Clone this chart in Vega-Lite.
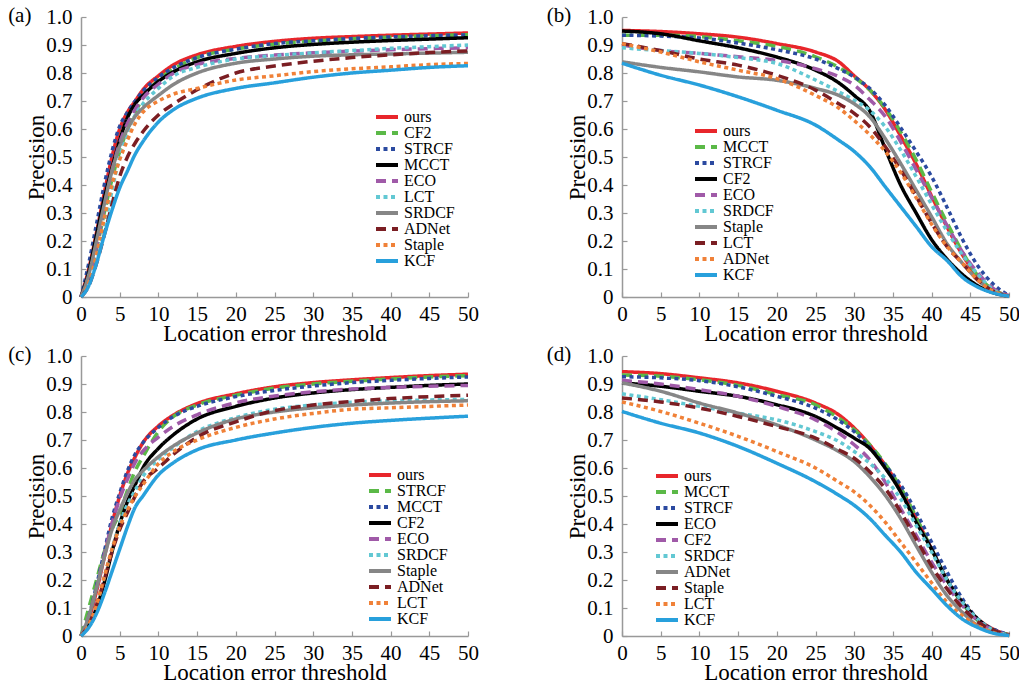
{
  "$schema": "https://vega.github.io/schema/vega-lite/v6.json",
  "padding": {"left": 8, "top": 5, "right": 0, "bottom": 0},
  "background": "white",
  "columns": 2,
  "spacing": {"row": -1, "column": 67},
  "resolve": {"scale": {"color": "independent", "strokeDash": "independent", "x": "independent", "y": "independent"}, "legend": {"color": "independent", "strokeDash": "independent"}},
  "config": {
    "view": {"stroke": null},
    "font": "Liberation Serif",
    "axis": {"grid": false, "labelFlush": false, "labelOverlap": false, "labelFont": "Liberation Serif", "labelFontSize": 21, "labelColor": "#000", "titleFont": "Liberation Serif", "titleFontSize": 23, "titleFontWeight": "normal", "titleColor": "#000", "domainColor": "#999", "domainWidth": 1.5, "tickColor": "#999", "tickSize": -5, "tickWidth": 1.2},
    "axisX": {"labelPadding": 11, "titlePadding": -2},
    "axisY": {"labelPadding": 14, "titlePadding": -3},
    "legend": {"orient": "none", "title": null, "labelFont": "Liberation Serif", "labelFontSize": 16, "labelColor": "#000", "symbolType": "M-2.2,0H2.2", "symbolSize": 100, "symbolStrokeWidth": 4, "rowPadding": -2, "labelOffset": 9, "padding": 0},
    "title": {"font": "Liberation Serif", "fontSize": 21, "fontWeight": "normal", "color": "#000"}
  },
  "datasets": {
    "a": [
      {"x":0,"ours":0,"CF2":0,"STRCF":0,"MCCT":0,"ECO":0,"LCT":0,"SRDCF":0,"ADNet":0,"Staple":0,"KCF":0},
      {"x":1,"ours":0.1,"CF2":0.07,"STRCF":0.12,"MCCT":0.09,"ECO":0.07,"LCT":0.05,"SRDCF":0.08,"ADNet":0.04,"Staple":0.05,"KCF":0.04},
      {"x":2,"ours":0.23,"CF2":0.17,"STRCF":0.26,"MCCT":0.22,"ECO":0.18,"LCT":0.13,"SRDCF":0.2,"ADNet":0.12,"Staple":0.15,"KCF":0.12},
      {"x":3,"ours":0.37,"CF2":0.3,"STRCF":0.4,"MCCT":0.35,"ECO":0.32,"LCT":0.24,"SRDCF":0.33,"ADNet":0.22,"Staple":0.28,"KCF":0.22},
      {"x":4,"ours":0.5,"CF2":0.42,"STRCF":0.52,"MCCT":0.46,"ECO":0.45,"LCT":0.38,"SRDCF":0.45,"ADNet":0.33,"Staple":0.4,"KCF":0.31},
      {"x":5,"ours":0.6,"CF2":0.52,"STRCF":0.61,"MCCT":0.56,"ECO":0.55,"LCT":0.5,"SRDCF":0.54,"ADNet":0.43,"Staple":0.49,"KCF":0.39},
      {"x":6,"ours":0.66,"CF2":0.6,"STRCF":0.66,"MCCT":0.64,"ECO":0.62,"LCT":0.59,"SRDCF":0.6,"ADNet":0.5,"Staple":0.56,"KCF":0.45},
      {"x":7,"ours":0.7,"CF2":0.66,"STRCF":0.7,"MCCT":0.69,"ECO":0.67,"LCT":0.65,"SRDCF":0.645,"ADNet":0.55,"Staple":0.62,"KCF":0.51},
      {"x":8,"ours":0.74,"CF2":0.71,"STRCF":0.735,"MCCT":0.72,"ECO":0.71,"LCT":0.69,"SRDCF":0.675,"ADNet":0.59,"Staple":0.66,"KCF":0.555},
      {"x":10,"ours":0.79,"CF2":0.775,"STRCF":0.785,"MCCT":0.77,"ECO":0.76,"LCT":0.745,"SRDCF":0.72,"ADNet":0.65,"Staple":0.7,"KCF":0.625},
      {"x":12,"ours":0.83,"CF2":0.815,"STRCF":0.82,"MCCT":0.805,"ECO":0.8,"LCT":0.79,"SRDCF":0.76,"ADNet":0.69,"Staple":0.725,"KCF":0.67},
      {"x":15,"ours":0.865,"CF2":0.855,"STRCF":0.855,"MCCT":0.84,"ECO":0.83,"LCT":0.82,"SRDCF":0.8,"ADNet":0.74,"Staple":0.745,"KCF":0.71},
      {"x":20,"ours":0.895,"CF2":0.885,"STRCF":0.885,"MCCT":0.87,"ECO":0.852,"LCT":0.85,"SRDCF":0.835,"ADNet":0.8,"Staple":0.775,"KCF":0.745},
      {"x":25,"ours":0.913,"CF2":0.903,"STRCF":0.905,"MCCT":0.89,"ECO":0.864,"LCT":0.862,"SRDCF":0.85,"ADNet":0.825,"Staple":0.79,"KCF":0.765},
      {"x":30,"ours":0.924,"CF2":0.914,"STRCF":0.915,"MCCT":0.902,"ECO":0.872,"LCT":0.872,"SRDCF":0.86,"ADNet":0.842,"Staple":0.805,"KCF":0.785},
      {"x":35,"ours":0.93,"CF2":0.922,"STRCF":0.923,"MCCT":0.91,"ECO":0.878,"LCT":0.88,"SRDCF":0.865,"ADNet":0.855,"Staple":0.815,"KCF":0.8},
      {"x":40,"ours":0.935,"CF2":0.928,"STRCF":0.929,"MCCT":0.916,"ECO":0.883,"LCT":0.888,"SRDCF":0.868,"ADNet":0.865,"Staple":0.822,"KCF":0.81},
      {"x":45,"ours":0.939,"CF2":0.933,"STRCF":0.933,"MCCT":0.921,"ECO":0.887,"LCT":0.894,"SRDCF":0.871,"ADNet":0.873,"Staple":0.83,"KCF":0.82},
      {"x":50,"ours":0.943,"CF2":0.937,"STRCF":0.936,"MCCT":0.926,"ECO":0.89,"LCT":0.9,"SRDCF":0.874,"ADNet":0.879,"Staple":0.834,"KCF":0.826}
    ],
    "b": [
      {"x":0,"ours":0.952,"MCCT":0.935,"STRCF":0.935,"CF2":0.95,"ECO":0.9,"SRDCF":0.89,"Staple":0.84,"LCT":0.905,"ADNet":0.905,"KCF":0.835},
      {"x":5,"ours":0.948,"MCCT":0.935,"STRCF":0.932,"CF2":0.94,"ECO":0.88,"SRDCF":0.88,"Staple":0.82,"LCT":0.88,"ADNet":0.875,"KCF":0.792},
      {"x":10,"ours":0.94,"MCCT":0.93,"STRCF":0.925,"CF2":0.915,"ECO":0.87,"SRDCF":0.87,"Staple":0.804,"LCT":0.85,"ADNet":0.84,"KCF":0.757},
      {"x":15,"ours":0.928,"MCCT":0.915,"STRCF":0.907,"CF2":0.89,"ECO":0.858,"SRDCF":0.855,"Staple":0.786,"LCT":0.828,"ADNet":0.81,"KCF":0.715},
      {"x":20,"ours":0.905,"MCCT":0.895,"STRCF":0.883,"CF2":0.857,"ECO":0.845,"SRDCF":0.834,"Staple":0.774,"LCT":0.792,"ADNet":0.78,"KCF":0.667},
      {"x":25,"ours":0.875,"MCCT":0.858,"STRCF":0.85,"CF2":0.81,"ECO":0.815,"SRDCF":0.775,"Staple":0.745,"LCT":0.739,"ADNet":0.72,"KCF":0.614},
      {"x":28,"ours":0.84,"MCCT":0.82,"STRCF":0.815,"CF2":0.765,"ECO":0.787,"SRDCF":0.733,"Staple":0.72,"LCT":0.69,"ADNet":0.675,"KCF":0.56},
      {"x":30,"ours":0.79,"MCCT":0.785,"STRCF":0.786,"CF2":0.72,"ECO":0.757,"SRDCF":0.703,"Staple":0.69,"LCT":0.656,"ADNet":0.63,"KCF":0.52},
      {"x":32,"ours":0.74,"MCCT":0.74,"STRCF":0.745,"CF2":0.665,"ECO":0.705,"SRDCF":0.667,"Staple":0.644,"LCT":0.608,"ADNet":0.58,"KCF":0.466},
      {"x":34,"ours":0.67,"MCCT":0.675,"STRCF":0.685,"CF2":0.53,"ECO":0.645,"SRDCF":0.608,"Staple":0.566,"LCT":0.537,"ADNet":0.52,"KCF":0.394},
      {"x":36,"ours":0.575,"MCCT":0.59,"STRCF":0.605,"CF2":0.4,"ECO":0.555,"SRDCF":0.525,"Staple":0.477,"LCT":0.454,"ADNet":0.445,"KCF":0.323},
      {"x":38,"ours":0.475,"MCCT":0.49,"STRCF":0.52,"CF2":0.3,"ECO":0.455,"SRDCF":0.43,"Staple":0.382,"LCT":0.36,"ADNet":0.355,"KCF":0.252},
      {"x":40,"ours":0.36,"MCCT":0.375,"STRCF":0.43,"CF2":0.205,"ECO":0.355,"SRDCF":0.33,"Staple":0.287,"LCT":0.264,"ADNet":0.26,"KCF":0.18},
      {"x":42,"ours":0.25,"MCCT":0.265,"STRCF":0.32,"CF2":0.135,"ECO":0.255,"SRDCF":0.235,"Staple":0.19,"LCT":0.18,"ADNet":0.18,"KCF":0.13},
      {"x":44,"ours":0.15,"MCCT":0.16,"STRCF":0.205,"CF2":0.08,"ECO":0.16,"SRDCF":0.15,"Staple":0.12,"LCT":0.12,"ADNet":0.12,"KCF":0.07},
      {"x":46,"ours":0.07,"MCCT":0.075,"STRCF":0.11,"CF2":0.04,"ECO":0.085,"SRDCF":0.08,"Staple":0.06,"LCT":0.06,"ADNet":0.06,"KCF":0.035},
      {"x":48,"ours":0.025,"MCCT":0.025,"STRCF":0.045,"CF2":0.015,"ECO":0.03,"SRDCF":0.025,"Staple":0.02,"LCT":0.02,"ADNet":0.02,"KCF":0.014},
      {"x":50,"ours":0.005,"MCCT":0.005,"STRCF":0.005,"CF2":0.003,"ECO":0.005,"SRDCF":0.003,"Staple":0.003,"LCT":0.003,"ADNet":0.003,"KCF":0.003}
    ],
    "c": [
      {"x":0,"ours":0,"STRCF":0,"MCCT":0,"CF2":0,"ECO":0,"SRDCF":0,"Staple":0,"ADNet":0,"LCT":0,"KCF":0},
      {"x":1,"ours":0.06,"STRCF":0.1,"MCCT":0.07,"CF2":0.04,"ECO":0.07,"SRDCF":0.04,"Staple":0.07,"ADNet":0.04,"LCT":0.04,"KCF":0.03},
      {"x":2,"ours":0.16,"STRCF":0.2,"MCCT":0.18,"CF2":0.1,"ECO":0.17,"SRDCF":0.11,"Staple":0.17,"ADNet":0.11,"LCT":0.11,"KCF":0.08},
      {"x":3,"ours":0.28,"STRCF":0.3,"MCCT":0.3,"CF2":0.19,"ECO":0.29,"SRDCF":0.21,"Staple":0.28,"ADNet":0.2,"LCT":0.21,"KCF":0.15},
      {"x":4,"ours":0.4,"STRCF":0.38,"MCCT":0.42,"CF2":0.3,"ECO":0.4,"SRDCF":0.31,"Staple":0.38,"ADNet":0.3,"LCT":0.31,"KCF":0.23},
      {"x":5,"ours":0.5,"STRCF":0.44,"MCCT":0.51,"CF2":0.4,"ECO":0.49,"SRDCF":0.4,"Staple":0.45,"ADNet":0.38,"LCT":0.39,"KCF":0.31},
      {"x":6,"ours":0.58,"STRCF":0.52,"MCCT":0.59,"CF2":0.48,"ECO":0.56,"SRDCF":0.47,"Staple":0.51,"ADNet":0.44,"LCT":0.45,"KCF":0.39},
      {"x":7,"ours":0.64,"STRCF":0.59,"MCCT":0.65,"CF2":0.54,"ECO":0.62,"SRDCF":0.52,"Staple":0.56,"ADNet":0.5,"LCT":0.5,"KCF":0.46},
      {"x":8,"ours":0.69,"STRCF":0.64,"MCCT":0.69,"CF2":0.6,"ECO":0.66,"SRDCF":0.57,"Staple":0.59,"ADNet":0.55,"LCT":0.54,"KCF":0.5},
      {"x":10,"ours":0.75,"STRCF":0.73,"MCCT":0.745,"CF2":0.67,"ECO":0.71,"SRDCF":0.63,"Staple":0.64,"ADNet":0.6,"LCT":0.615,"KCF":0.575},
      {"x":12,"ours":0.79,"STRCF":0.785,"MCCT":0.785,"CF2":0.72,"ECO":0.75,"SRDCF":0.675,"Staple":0.68,"ADNet":0.65,"LCT":0.66,"KCF":0.62},
      {"x":15,"ours":0.83,"STRCF":0.825,"MCCT":0.82,"CF2":0.775,"ECO":0.79,"SRDCF":0.73,"Staple":0.725,"ADNet":0.71,"LCT":0.7,"KCF":0.665},
      {"x":20,"ours":0.865,"STRCF":0.86,"MCCT":0.855,"CF2":0.82,"ECO":0.833,"SRDCF":0.78,"Staple":0.775,"ADNet":0.765,"LCT":0.745,"KCF":0.7},
      {"x":25,"ours":0.89,"STRCF":0.885,"MCCT":0.877,"CF2":0.85,"ECO":0.857,"SRDCF":0.81,"Staple":0.8,"ADNet":0.805,"LCT":0.775,"KCF":0.725},
      {"x":30,"ours":0.905,"STRCF":0.9,"MCCT":0.893,"CF2":0.868,"ECO":0.872,"SRDCF":0.825,"Staple":0.815,"ADNet":0.825,"LCT":0.795,"KCF":0.745},
      {"x":35,"ours":0.915,"STRCF":0.91,"MCCT":0.905,"CF2":0.88,"ECO":0.882,"SRDCF":0.835,"Staple":0.825,"ADNet":0.838,"LCT":0.81,"KCF":0.76},
      {"x":40,"ours":0.923,"STRCF":0.918,"MCCT":0.913,"CF2":0.888,"ECO":0.888,"SRDCF":0.84,"Staple":0.832,"ADNet":0.848,"LCT":0.815,"KCF":0.77},
      {"x":45,"ours":0.93,"STRCF":0.925,"MCCT":0.92,"CF2":0.895,"ECO":0.892,"SRDCF":0.843,"Staple":0.837,"ADNet":0.855,"LCT":0.82,"KCF":0.778},
      {"x":50,"ours":0.935,"STRCF":0.93,"MCCT":0.925,"CF2":0.9,"ECO":0.895,"SRDCF":0.845,"Staple":0.84,"ADNet":0.86,"LCT":0.825,"KCF":0.785}
    ],
    "d": [
      {"x":0,"ours":0.944,"MCCT":0.932,"STRCF":0.926,"ECO":0.904,"CF2":0.913,"SRDCF":0.865,"ADNet":0.904,"Staple":0.85,"LCT":0.836,"KCF":0.802},
      {"x":5,"ours":0.937,"MCCT":0.928,"STRCF":0.922,"ECO":0.892,"CF2":0.9,"SRDCF":0.844,"ADNet":0.874,"Staple":0.836,"LCT":0.802,"KCF":0.76},
      {"x":10,"ours":0.922,"MCCT":0.915,"STRCF":0.912,"ECO":0.874,"CF2":0.88,"SRDCF":0.82,"ADNet":0.832,"Staple":0.814,"LCT":0.76,"KCF":0.725},
      {"x":15,"ours":0.904,"MCCT":0.895,"STRCF":0.89,"ECO":0.856,"CF2":0.856,"SRDCF":0.796,"ADNet":0.796,"Staple":0.784,"LCT":0.713,"KCF":0.677},
      {"x":20,"ours":0.874,"MCCT":0.862,"STRCF":0.856,"ECO":0.826,"CF2":0.82,"SRDCF":0.772,"ADNet":0.754,"Staple":0.748,"LCT":0.659,"KCF":0.617},
      {"x":25,"ours":0.832,"MCCT":0.826,"STRCF":0.814,"ECO":0.784,"CF2":0.772,"SRDCF":0.73,"ADNet":0.7,"Staple":0.707,"LCT":0.6,"KCF":0.551},
      {"x":28,"ours":0.79,"MCCT":0.778,"STRCF":0.77,"ECO":0.74,"CF2":0.725,"SRDCF":0.695,"ADNet":0.659,"Staple":0.665,"LCT":0.55,"KCF":0.503},
      {"x":30,"ours":0.743,"MCCT":0.737,"STRCF":0.73,"ECO":0.707,"CF2":0.683,"SRDCF":0.659,"ADNet":0.623,"Staple":0.635,"LCT":0.515,"KCF":0.467},
      {"x":32,"ours":0.683,"MCCT":0.683,"STRCF":0.675,"ECO":0.67,"CF2":0.63,"SRDCF":0.617,"ADNet":0.569,"Staple":0.587,"LCT":0.467,"KCF":0.42},
      {"x":34,"ours":0.61,"MCCT":0.615,"STRCF":0.61,"ECO":0.6,"CF2":0.55,"SRDCF":0.563,"ADNet":0.503,"Staple":0.527,"LCT":0.407,"KCF":0.36},
      {"x":36,"ours":0.527,"MCCT":0.53,"STRCF":0.54,"ECO":0.515,"CF2":0.455,"SRDCF":0.49,"ADNet":0.42,"Staple":0.443,"LCT":0.335,"KCF":0.3},
      {"x":38,"ours":0.42,"MCCT":0.425,"STRCF":0.443,"ECO":0.407,"CF2":0.36,"SRDCF":0.395,"ADNet":0.323,"Staple":0.347,"LCT":0.263,"KCF":0.228},
      {"x":40,"ours":0.31,"MCCT":0.31,"STRCF":0.335,"ECO":0.31,"CF2":0.264,"SRDCF":0.3,"ADNet":0.228,"Staple":0.25,"LCT":0.19,"KCF":0.168},
      {"x":42,"ours":0.2,"MCCT":0.2,"STRCF":0.228,"ECO":0.2,"CF2":0.18,"SRDCF":0.2,"ADNet":0.144,"Staple":0.168,"LCT":0.12,"KCF":0.108},
      {"x":44,"ours":0.12,"MCCT":0.115,"STRCF":0.132,"ECO":0.12,"CF2":0.108,"SRDCF":0.12,"ADNet":0.084,"Staple":0.1,"LCT":0.072,"KCF":0.06},
      {"x":46,"ours":0.06,"MCCT":0.055,"STRCF":0.06,"ECO":0.06,"CF2":0.054,"SRDCF":0.06,"ADNet":0.036,"Staple":0.05,"LCT":0.036,"KCF":0.03},
      {"x":48,"ours":0.024,"MCCT":0.02,"STRCF":0.024,"ECO":0.02,"CF2":0.02,"SRDCF":0.02,"ADNet":0.012,"Staple":0.02,"LCT":0.012,"KCF":0.01},
      {"x":50,"ours":0.005,"MCCT":0.004,"STRCF":0.005,"ECO":0.004,"CF2":0.004,"SRDCF":0.004,"ADNet":0.002,"Staple":0.004,"LCT":0.002,"KCF":0.002}
    ]
  },
  "concat": [
    {
      "width": 387, "height": 280,
      "title": {"text": "(a)", "orient": "left", "anchor": "end", "angle": 0, "align": "right", "baseline": "middle", "offset": -29, "dy": 10},
      "data": {"name": "a"},
      "transform": [{"fold": ["ours","CF2","STRCF","MCCT","ECO","LCT","SRDCF","ADNet","Staple","KCF"], "as": ["name","y"]}],
      "mark": {"type": "line", "strokeWidth": 3.5, "interpolate": "monotone"},
      "encoding": {
        "x": {"field": "x", "type": "quantitative", "scale": {"domain": [0,50], "nice": false}, "axis": {"values": [0,5,10,15,20,25,30,35,40,45,50], "title": "Location error threshold"}},
        "y": {"field": "y", "type": "quantitative", "scale": {"domain": [0,1], "nice": false}, "axis": {"values": [0,0.1,0.2,0.3,0.4,0.5,0.6,0.7,0.8,0.9,1], "labelExpr": "datum.value == 0 ? '0' : format(datum.value, '.1f')", "title": "Precision"}},
        "color": {"field": "name", "type": "nominal", "scale": {"domain": ["ours","CF2","STRCF","MCCT","ECO","LCT","SRDCF","ADNet","Staple","KCF"], "range": ["#e8262b","#5bb947","#2b4aa0","#000000","#a05aa8","#62c8d3","#868686","#7b1e23","#f08138","#28a0dc"]}, "legend": {"legendX": 298, "legendY": 92}},
        "strokeDash": {"field": "name", "type": "nominal", "scale": {"domain": ["ours","CF2","STRCF","MCCT","ECO","LCT","SRDCF","ADNet","Staple","KCF"], "range": [[1,0],[10,6],[4,3.5],[1,0],[10,6],[4,3.5],[1,0],[10,6],[4,3.5],[1,0]]}, "legend": {"legendX": 298, "legendY": 92}}
      }
    },
    {
      "width": 387, "height": 280,
      "title": {"text": "(b)", "orient": "left", "anchor": "end", "angle": 0, "align": "right", "baseline": "middle", "offset": -29, "dy": 10},
      "data": {"name": "b"},
      "transform": [{"fold": ["ours","MCCT","STRCF","CF2","ECO","SRDCF","Staple","LCT","ADNet","KCF"], "as": ["name","y"]}],
      "mark": {"type": "line", "strokeWidth": 3.5, "interpolate": "monotone"},
      "encoding": {
        "x": {"field": "x", "type": "quantitative", "scale": {"domain": [0,50], "nice": false}, "axis": {"values": [0,5,10,15,20,25,30,35,40,45,50], "title": "Location error threshold"}},
        "y": {"field": "y", "type": "quantitative", "scale": {"domain": [0,1], "nice": false}, "axis": {"values": [0,0.1,0.2,0.3,0.4,0.5,0.6,0.7,0.8,0.9,1], "labelExpr": "datum.value == 0 ? '0' : format(datum.value, '.1f')", "title": "Precision"}},
        "color": {"field": "name", "type": "nominal", "scale": {"domain": ["ours","MCCT","STRCF","CF2","ECO","SRDCF","Staple","LCT","ADNet","KCF"], "range": ["#e8262b","#5bb947","#2b4aa0","#000000","#a05aa8","#62c8d3","#868686","#7b1e23","#f08138","#28a0dc"]}, "legend": {"legendX": 76, "legendY": 106}},
        "strokeDash": {"field": "name", "type": "nominal", "scale": {"domain": ["ours","MCCT","STRCF","CF2","ECO","SRDCF","Staple","LCT","ADNet","KCF"], "range": [[1,0],[10,6],[4,3.5],[1,0],[10,6],[4,3.5],[1,0],[10,6],[4,3.5],[1,0]]}, "legend": {"legendX": 76, "legendY": 106}}
      }
    },
    {
      "width": 387, "height": 280,
      "title": {"text": "(c)", "orient": "left", "anchor": "end", "angle": 0, "align": "right", "baseline": "middle", "offset": -29, "dy": 10},
      "data": {"name": "c"},
      "transform": [{"fold": ["ours","STRCF","MCCT","CF2","ECO","SRDCF","Staple","ADNet","LCT","KCF"], "as": ["name","y"]}],
      "mark": {"type": "line", "strokeWidth": 3.5, "interpolate": "monotone"},
      "encoding": {
        "x": {"field": "x", "type": "quantitative", "scale": {"domain": [0,50], "nice": false}, "axis": {"values": [0,5,10,15,20,25,30,35,40,45,50], "title": "Location error threshold"}},
        "y": {"field": "y", "type": "quantitative", "scale": {"domain": [0,1], "nice": false}, "axis": {"values": [0,0.1,0.2,0.3,0.4,0.5,0.6,0.7,0.8,0.9,1], "labelExpr": "datum.value == 0 ? '0' : format(datum.value, '.1f')", "title": "Precision"}},
        "color": {"field": "name", "type": "nominal", "scale": {"domain": ["ours","STRCF","MCCT","CF2","ECO","SRDCF","Staple","ADNet","LCT","KCF"], "range": ["#e8262b","#5bb947","#2b4aa0","#000000","#a05aa8","#62c8d3","#868686","#7b1e23","#f08138","#28a0dc"]}, "legend": {"legendX": 291, "legendY": 111}},
        "strokeDash": {"field": "name", "type": "nominal", "scale": {"domain": ["ours","STRCF","MCCT","CF2","ECO","SRDCF","Staple","ADNet","LCT","KCF"], "range": [[1,0],[10,6],[4,3.5],[1,0],[10,6],[4,3.5],[1,0],[10,6],[4,3.5],[1,0]]}, "legend": {"legendX": 291, "legendY": 111}}
      }
    },
    {
      "width": 387, "height": 280,
      "title": {"text": "(d)", "orient": "left", "anchor": "end", "angle": 0, "align": "right", "baseline": "middle", "offset": -29, "dy": 10},
      "data": {"name": "d"},
      "transform": [{"fold": ["ours","MCCT","STRCF","ECO","CF2","SRDCF","ADNet","Staple","LCT","KCF"], "as": ["name","y"]}],
      "mark": {"type": "line", "strokeWidth": 3.5, "interpolate": "monotone"},
      "encoding": {
        "x": {"field": "x", "type": "quantitative", "scale": {"domain": [0,50], "nice": false}, "axis": {"values": [0,5,10,15,20,25,30,35,40,45,50], "title": "Location error threshold"}},
        "y": {"field": "y", "type": "quantitative", "scale": {"domain": [0,1], "nice": false}, "axis": {"values": [0,0.1,0.2,0.3,0.4,0.5,0.6,0.7,0.8,0.9,1], "labelExpr": "datum.value == 0 ? '0' : format(datum.value, '.1f')", "title": "Precision"}},
        "color": {"field": "name", "type": "nominal", "scale": {"domain": ["ours","MCCT","STRCF","ECO","CF2","SRDCF","ADNet","Staple","LCT","KCF"], "range": ["#e8262b","#5bb947","#2b4aa0","#000000","#a05aa8","#62c8d3","#868686","#7b1e23","#f08138","#28a0dc"]}, "legend": {"legendX": 37, "legendY": 112}},
        "strokeDash": {"field": "name", "type": "nominal", "scale": {"domain": ["ours","MCCT","STRCF","ECO","CF2","SRDCF","ADNet","Staple","LCT","KCF"], "range": [[1,0],[10,6],[4,3.5],[1,0],[10,6],[4,3.5],[1,0],[10,6],[4,3.5],[1,0]]}, "legend": {"legendX": 37, "legendY": 112}}
      }
    }
  ]
}
